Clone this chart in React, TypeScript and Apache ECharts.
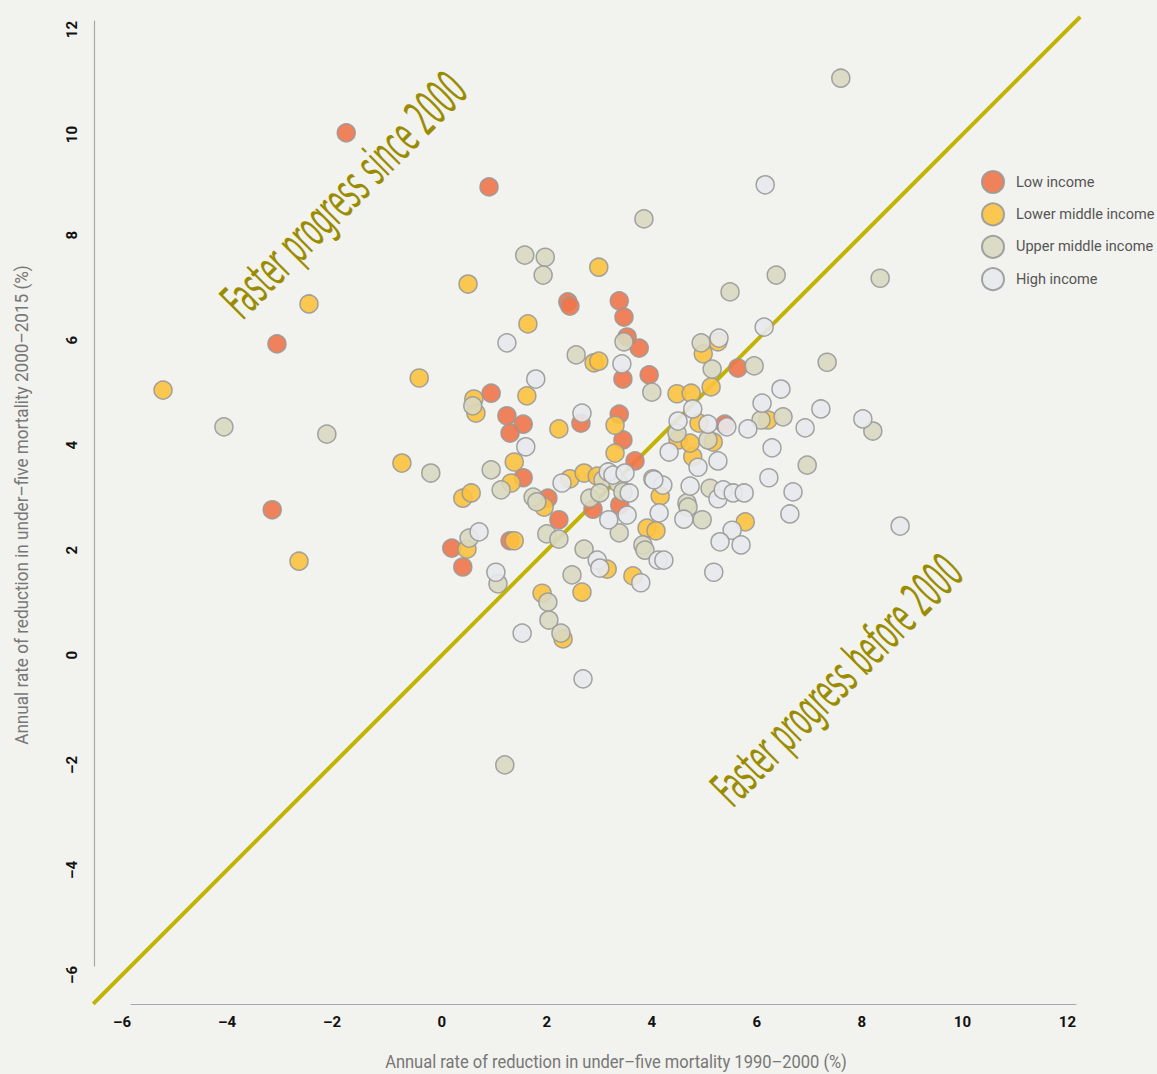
import React, { useEffect, useRef } from "react";
import * as echarts from "echarts";

// Annual rate of reduction in U5MR: [1990–2000 (%), 2000–2015 (%)]
const lowIncome: number[][] = [
  [-1.9, 9.87], [0.82, 8.84], [-3.22, 5.85], [-3.31, 2.69], [0.86, 4.91],
  [2.32, 6.65], [2.36, 6.57], [3.3, 6.67], [3.39, 6.36], [3.45, 5.98],
  [3.68, 5.77], [3.37, 5.18], [3.87, 5.26], [1.16, 4.48], [1.47, 4.32],
  [1.22, 4.15], [1.47, 3.3], [2.57, 4.34], [3.3, 4.51], [3.37, 4.02],
  [3.6, 3.62], [3.31, 2.78], [2.8, 2.7], [1.94, 2.91], [2.15, 2.5],
  [0.11, 1.96], [0.32, 1.6], [1.22, 2.1], [5.56, 5.39], [5.31, 4.32],
];

const lowerMiddleIncome: number[][] = [
  [-5.39, 4.97], [-2.61, 6.61], [-2.8, 1.71], [-0.84, 3.58], [-0.51, 5.2],
  [0.42, 6.99], [0.53, 4.8], [0.57, 4.53], [0.32, 2.91], [0.48, 3.01],
  [0.4, 1.94], [1.3, 2.1], [1.3, 3.6], [1.24, 3.2], [1.56, 6.23],
  [1.54, 4.86], [2.15, 4.23], [2.36, 3.28], [2.63, 3.39], [1.87, 2.74],
  [2.91, 7.31], [2.82, 5.49], [2.91, 5.52], [3.22, 4.3], [3.22, 3.77],
  [1.83, 1.1], [2.59, 1.12], [3.07, 1.56], [3.56, 1.43], [2.23, 0.23],
  [2.88, 3.33], [4.08, 2.95], [3.83, 2.34], [4.0, 2.29], [4.7, 3.7],
  [4.42, 4.02], [4.65, 3.96], [5.09, 3.98], [5.7, 2.46], [4.4, 4.9],
  [4.67, 4.91], [5.18, 5.89], [4.9, 5.66], [5.05, 5.03], [4.82, 4.34],
  [6.13, 4.4],
];

const upperMiddleIncome: number[][] = [
  [-4.23, 4.27], [-2.27, 4.13], [-0.29, 3.39], [0.86, 3.45], [1.05, 3.07],
  [1.66, 2.93], [1.73, 2.84], [0.44, 2.15], [0.99, 1.28], [1.92, 2.23],
  [2.15, 2.13], [1.94, 0.93], [1.96, 0.59], [2.19, 0.34], [2.4, 1.45],
  [2.63, 1.94], [2.99, 3.26], [2.74, 2.91], [2.93, 3.01], [3.28, 3.2],
  [3.37, 3.03], [3.3, 2.25], [3.75, 2.02], [3.79, 1.92], [4.59, 2.82],
  [4.61, 2.74], [4.88, 2.5], [5.03, 3.1], [4.4, 4.15], [4.99, 4.02],
  [1.12, -2.17], [1.5, 7.54], [1.89, 7.5], [1.85, 7.16], [3.77, 8.23],
  [7.52, 10.91], [2.48, 5.64], [3.39, 5.89], [3.92, 4.93], [4.86, 5.87],
  [5.07, 5.37], [5.87, 5.43], [7.26, 5.5], [5.41, 6.84], [6.29, 7.16],
  [8.27, 7.1], [6.0, 4.4], [6.42, 4.46], [8.13, 4.19], [6.88, 3.54],
  [0.51, 4.67],
];

const highIncome: number[][] = [
  [6.08, 8.88], [6.06, 6.17], [1.16, 5.87], [1.71, 5.18], [3.35, 5.47],
  [2.59, 4.53], [1.52, 3.89], [0.63, 2.27], [0.95, 1.5], [1.45, 0.34],
  [2.61, -0.53], [2.21, 3.2], [3.09, 3.41], [3.18, 3.35], [3.41, 3.39],
  [3.49, 3.01], [3.1, 2.5], [3.45, 2.59], [2.88, 1.73], [2.93, 1.58],
  [3.71, 1.3], [3.94, 3.28], [4.13, 3.16], [4.06, 2.63], [4.04, 1.73],
  [4.15, 1.73], [4.25, 3.79], [4.65, 3.14], [4.53, 2.51], [5.18, 3.62],
  [4.8, 3.5], [5.18, 2.9], [5.28, 3.07], [5.47, 3.01], [5.68, 3.01],
  [5.45, 2.3], [5.22, 2.08], [5.62, 2.02], [5.1, 1.5], [4.7, 4.61],
  [4.42, 4.38], [4.99, 4.32], [5.35, 4.27], [5.2, 5.96], [5.75, 4.23],
  [6.02, 4.72], [6.38, 4.99], [7.14, 4.61], [6.84, 4.25], [7.94, 4.42],
  [6.21, 3.87], [6.15, 3.3], [6.61, 3.03], [6.55, 2.61], [8.65, 2.38],
  [3.96, 3.26],
];

// Line of equal progress (y = x), extended to the corner of the detached axes
const equalityLine: number[][] = [[-6.72, -6.72], [12.08, 12.08]];

const seriesNames = ["Low income", "Lower middle income", "Upper middle income", "High income"];
const seriesColors = ["#F0764A", "#FBC23F", "#D9D8C1", "#E8E9EC"];
const xAxisTitle = "Annual rate of reduction in under\u2013five mortality 1990\u20132000 (%)";
const yAxisTitle = "Annual rate of reduction in under\u2013five mortality 2000\u20132015 (%)";
const annotationSince = "Faster progress since 2000";
const annotationBefore = "Faster progress before 2000";

const UI_FONT = "Roboto, 'Liberation Sans', sans-serif";
const ANN_FONT = "'DejaVu Sans Condensed', 'Liberation Sans Narrow', sans-serif";

function measure(text: string, font: string): number {
  const c = document.createElement("canvas");
  const ctx = c.getContext("2d");
  if (!ctx) return text.length * 10;
  ctx.font = font;
  return ctx.measureText(text).width;
}

export default function App() {
  const ref = useRef<HTMLDivElement>(null);

  useEffect(() => {
    if (!ref.current) return;
    const chart = echarts.init(ref.current, null, { renderer: "svg" });

    const annFont = 50;
    const annFontStr = `${annFont}px ${ANN_FONT}`;
    const sinceScale = 322 / measure(annotationSince, annFontStr);
    const beforeScale = 330 / measure(annotationBefore, annFontStr);

    const titleFont = 18;
    const titleFontStr = `${titleFont}px ${UI_FONT}`;
    const xTitleScale = 462 / measure(xAxisTitle, titleFontStr);
    const yTitleScale = 480 / measure(yAxisTitle, titleFontStr);

    const minusFmt = (v: number) => String(v).replace("-", "\u2013");

    const datasets = [lowIncome, lowerMiddleIncome, upperMiddleIncome, highIncome];

    chart.setOption({
      animation: false,
      backgroundColor: "#F2F2EE",
      grid: { left: 131, top: 21, width: 945, height: 945, containLabel: false },
      legend: {
        data: seriesNames,
        orient: "vertical",
        left: 981,
        top: 170,
        padding: 0,
        itemWidth: 22,
        itemHeight: 22,
        itemGap: 8.4,
        icon: "circle",
        textStyle: {
          color: "#555",
          fontSize: 14.5,
          lineHeight: 18,
          fontFamily: UI_FONT,
          padding: [0, 0, 0, 7],
        },
      },
      xAxis: {
        type: "value",
        min: -6,
        max: 12,
        interval: 2,
        offset: 38,
        axisLine: { show: true, onZero: false, lineStyle: { color: "#a8a8a8", width: 1.2 } },
        axisTick: { show: false },
        splitLine: { show: false },
        axisLabel: {
          formatter: minusFmt,
          color: "#111",
          fontWeight: "bold",
          fontSize: 15,
          fontFamily: UI_FONT,
          margin: 10,
          align: "right",
        },
      },
      yAxis: {
        type: "value",
        min: -6,
        max: 12,
        interval: 2,
        offset: 37,
        axisLine: { show: true, onZero: false, lineStyle: { color: "#a8a8a8", width: 1.2 } },
        axisTick: { show: false },
        splitLine: { show: false },
        axisLabel: {
          formatter: minusFmt,
          color: "#111",
          fontWeight: "bold",
          fontSize: 15,
          fontFamily: UI_FONT,
          margin: 15,
          rotate: 90,
          align: "right",
          verticalAlign: "bottom",
        },
      },
      series: datasets.map((d, i) => ({
        name: seriesNames[i],
        type: "scatter",
        data: d,
        symbolSize: 18,
        z: 3,
        itemStyle: {
          color: seriesColors[i],
          borderColor: "#999",
          borderWidth: 1.5,
          opacity: 0.9,
        },
      })),
    });

    // equality line, placed through the chart's own scales (may extend beyond the grid)
    const p1 = chart.convertToPixel({ gridIndex: 0 }, equalityLine[0]) as number[];
    const p2 = chart.convertToPixel({ gridIndex: 0 }, equalityLine[1]) as number[];

    chart.setOption({
      graphic: [
        {
          type: "line",
          z: 1,
          silent: true,
          shape: { x1: p1[0], y1: p1[1], x2: p2[0], y2: p2[1] },
          style: { stroke: "#C2B300", lineWidth: 4 },
        },
        {
          type: "text",
          x: 616,
          y: 1062,
          scaleX: xTitleScale,
          style: {
            text: xAxisTitle,
            fill: "#777",
            fontSize: titleFont,
            fontFamily: UI_FONT,
            align: "center",
            verticalAlign: "middle",
          },
        },
        {
          type: "text",
          x: 22,
          y: 505,
          rotation: Math.PI / 2,
          scaleX: yTitleScale,
          style: {
            text: yAxisTitle,
            fill: "#777",
            fontSize: titleFont,
            fontFamily: UI_FONT,
            align: "center",
            verticalAlign: "middle",
          },
        },
        {
          type: "text",
          x: 344,
          y: 195,
          rotation: Math.PI / 4,
          scaleX: sinceScale,
          z: 5,
          style: {
            text: annotationSince,
            fill: "#9A8C00",
            fontSize: annFont,
            fontFamily: ANN_FONT,
            align: "center",
            verticalAlign: "middle",
          },
        },
        {
          type: "text",
          x: 837,
          y: 680,
          rotation: Math.PI / 4,
          scaleX: beforeScale,
          z: 5,
          style: {
            text: annotationBefore,
            fill: "#9A8C00",
            fontSize: annFont,
            fontFamily: ANN_FONT,
            align: "center",
            verticalAlign: "middle",
          },
        },
      ],
    });

    return () => chart.dispose();
  }, []);

  return (
    <div
      ref={ref}
      style={{ position: "fixed", left: 0, top: 0, width: 1157, height: 1074, background: "#F2F2EE" }}
    />
  );
}
